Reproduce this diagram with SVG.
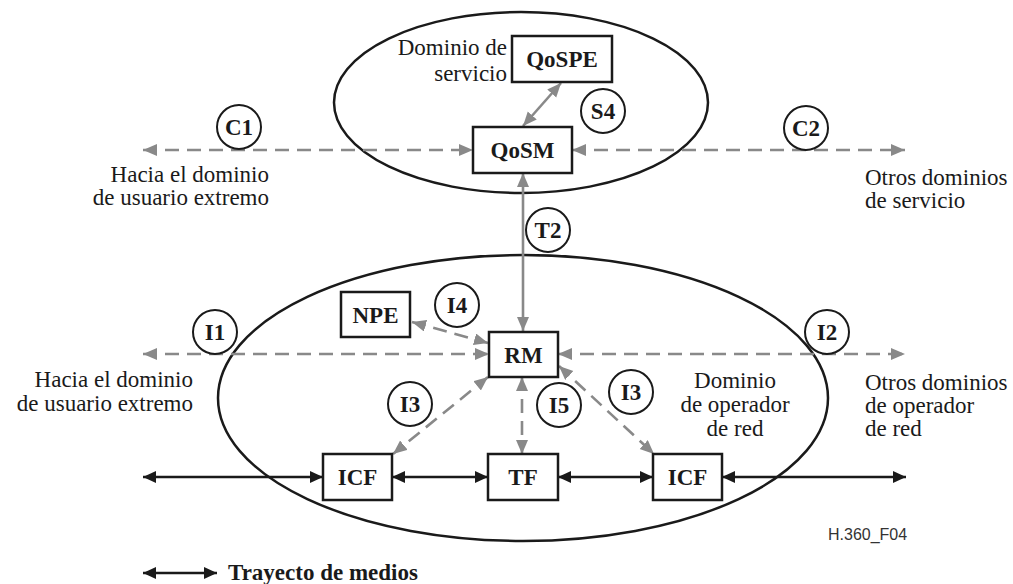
<svg xmlns="http://www.w3.org/2000/svg" width="1013" height="584" viewBox="0 0 1013 584">
<style>
.bg{fill:#ffffff}
.dom{fill:none;stroke:#1a1a1a;stroke-width:2.5}
.box{fill:#ffffff;stroke:#1a1a1a;stroke-width:2.5}
.lbl{fill:#ffffff;stroke:#1a1a1a;stroke-width:2}
.bt{font-family:"Liberation Serif","Times New Roman",serif;font-weight:bold;font-size:23px;fill:#1a1a1a;text-anchor:middle}
.t{font-family:"Liberation Serif","Times New Roman",serif;font-size:23px;fill:#1a1a1a}
.r{text-anchor:end}
.m{text-anchor:middle}
.g{stroke:#898989;stroke-width:2.6;fill:none;marker-start:url(#ga);marker-end:url(#ga)}
.d{stroke-dasharray:14 8}
.k{stroke:#1a1a1a;stroke-width:2.5;fill:none;marker-start:url(#ka);marker-end:url(#ka)}
.fig{font-family:"Liberation Sans",Arial,sans-serif;font-size:16px;fill:#333333}
</style>
<defs>
<marker id="ga" markerUnits="userSpaceOnUse" markerWidth="15" markerHeight="13" refX="14" refY="6" orient="auto-start-reverse"><path d="M0,0 L14,6 L0,12 z" fill="#898989"/></marker>
<marker id="ka" markerUnits="userSpaceOnUse" markerWidth="14" markerHeight="13" refX="13" refY="6" orient="auto-start-reverse"><path d="M0,0 L13,6 L0,12 z" fill="#1a1a1a"/></marker>
</defs>
<rect class="bg" x="0" y="0" width="1013" height="584"/>

<g id="service-domain">
<ellipse class="dom" cx="521" cy="102.5" rx="187" ry="90.5"/>
<text class="t r" x="507" y="55">Dominio de</text>
<text class="t r" x="507" y="81">servicio</text>
</g>
<g id="network-domain">
<ellipse class="dom" cx="523" cy="398" rx="305" ry="143"/>
<text class="t m" x="735" y="388">Dominio</text>
<text class="t m" x="735" y="412">de operador</text>
<text class="t m" x="735" y="436">de red</text>
</g>

<g id="connectors">
<line class="g d" x1="143" y1="150" x2="473" y2="150"/>
<line class="g d" x1="572" y1="150" x2="905" y2="150"/>
<line class="g" x1="523" y1="126" x2="561" y2="83"/>
<line class="g" x1="523" y1="173" x2="523" y2="331"/>
<line class="g d" x1="143" y1="354" x2="489" y2="354"/>
<line class="g d" x1="558" y1="354" x2="905" y2="354"/>
<line class="g d" x1="412" y1="322" x2="488" y2="343"/>
<line class="g d" x1="488" y1="377" x2="393" y2="454"/>
<line class="g d" x1="522" y1="377" x2="522" y2="454"/>
<line class="g d" x1="559" y1="366" x2="654" y2="454"/>
<line class="k" x1="143" y1="477" x2="323" y2="477"/>
<line class="k" x1="392" y1="477" x2="488" y2="477"/>
<line class="k" x1="558" y1="477" x2="653" y2="477"/>
<line class="k" x1="722" y1="477" x2="906" y2="477"/>
</g>

<g id="QoSPE"><rect class="box" x="512" y="36" width="100" height="46"/><text class="bt" x="562" y="67">QoSPE</text></g>
<g id="QoSM"><rect class="box" x="473" y="127" width="99" height="46"/><text class="bt" x="522.5" y="158">QoSM</text></g>
<g id="NPE"><rect class="box" x="341" y="292" width="69" height="45"/><text class="bt" x="375.5" y="323">NPE</text></g>
<g id="RM"><rect class="box" x="489" y="332" width="69" height="45"/><text class="bt" x="523.5" y="363">RM</text></g>
<g id="ICF1"><rect class="box" x="323" y="454" width="69" height="46"/><text class="bt" x="357.5" y="485">ICF</text></g>
<g id="TF"><rect class="box" x="488" y="454" width="70" height="46"/><text class="bt" x="523" y="485">TF</text></g>
<g id="ICF2"><rect class="box" x="653" y="454" width="69" height="46"/><text class="bt" x="687.5" y="485">ICF</text></g>

<g id="interface-labels">
<circle class="lbl" cx="239" cy="127" r="22"/><text class="bt" x="239" y="135">C1</text>
<circle class="lbl" cx="806" cy="128" r="22"/><text class="bt" x="806" y="136">C2</text>
<circle class="lbl" cx="603" cy="111" r="22"/><text class="bt" x="603" y="119">S4</text>
<circle class="lbl" cx="548" cy="230" r="22"/><text class="bt" x="548" y="238">T2</text>
<circle class="lbl" cx="215" cy="332" r="22"/><text class="bt" x="215" y="340">I1</text>
<circle class="lbl" cx="457" cy="305" r="22"/><text class="bt" x="457" y="313">I4</text>
<circle class="lbl" cx="827" cy="332" r="22"/><text class="bt" x="827" y="340">I2</text>
<circle class="lbl" cx="410" cy="404" r="22"/><text class="bt" x="410" y="412">I3</text>
<circle class="lbl" cx="559" cy="405" r="22"/><text class="bt" x="559" y="413">I5</text>
<circle class="lbl" cx="631" cy="392" r="22"/><text class="bt" x="631" y="400">I3</text>
</g>

<g id="side-texts">
<text class="t r" x="269" y="182">Hacia el dominio</text>
<text class="t r" x="269" y="205">de usuario extremo</text>
<text class="t" x="865" y="185">Otros dominios</text>
<text class="t" x="865" y="208">de servicio</text>
<text class="t r" x="193" y="387">Hacia el dominio</text>
<text class="t r" x="193" y="411">de usuario extremo</text>
<text class="t" x="865" y="390">Otros dominios</text>
<text class="t" x="865" y="413">de operador</text>
<text class="t" x="865" y="436">de red</text>
</g>

<g id="legend">
<line class="k" x1="143" y1="573" x2="217" y2="573"/>
<text class="bt" x="228" y="580" style="text-anchor:start">Trayecto de medios</text>
<text class="fig" x="828" y="540">H.360_F04</text>
</g>
</svg>
